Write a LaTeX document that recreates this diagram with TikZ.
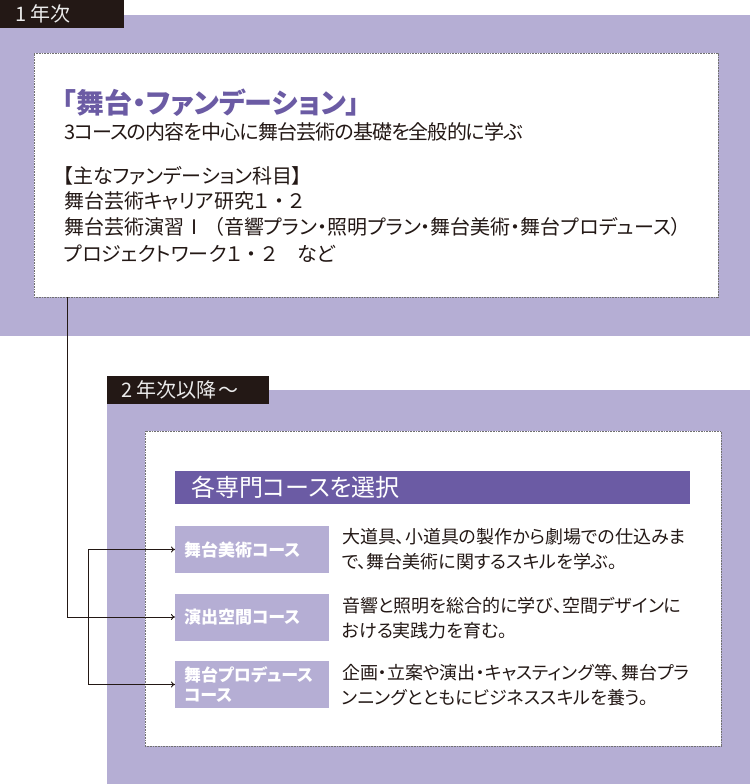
\documentclass[tikz,border=0pt]{standalone}
\usepackage{fontspec}
\setmainfont{Noto Sans CJK JP}[RawFeature=+palt]
\newfontfamily\fw{Noto Sans CJK JP}
\usetikzlibrary{arrows.meta}
\definecolor{band}{HTML}{B5AED4}
\definecolor{tagc}{HTML}{231815}
\definecolor{deep}{HTML}{6B5BA4}
\definecolor{dotc}{HTML}{707070}
\definecolor{ink}{HTML}{231815}
\newcommand{\fdot}{{\fw ・}}
\begin{document}
\begin{tikzpicture}[x=1pt,y=-1pt,inner sep=0pt,outer sep=0pt,
  bandbox/.style={fill=band,draw=none,anchor=north west},
  tagbox/.style={fill=tagc,anchor=north west,minimum height=28pt},
  tagtext/.style={anchor=west,text=white!92!black,font=\fw\fontsize{20pt}{22pt}\selectfont},
  panel/.style={fill=white,draw=dotc,line width=0.8pt,dash pattern=on 0.9pt off 0.7pt,anchor=north west},
  body/.style={anchor=west,text=ink,font=\fontsize{20pt}{26pt}\selectfont},
  desc/.style={anchor=west,text=ink,align=left,font=\fontsize{18pt}{24.5pt}\selectfont},
  course/.style={fill=band,text=white,anchor=west,minimum width=154pt,minimum height=47pt,
    text width=136pt,align=left,inner xsep=9pt,font=\bfseries\fontsize{17pt}{20pt}\selectfont},
  arr/.style={draw=ink,line width=0.9pt,-{To[length=4pt,width=6pt]}}]
\useasboundingbox (0,0) rectangle (750,784);
% first year
\node[bandbox,minimum width=750pt,minimum height=321pt] (band1) at (0,15) {};
\node[tagbox,minimum width=124pt] (tag1) at (0,0) {};
\node[tagtext] (tag1t) at (15,14) {1 年次};
\node[panel,minimum width=684pt,minimum height=244pt] (box1) at (34,53) {};
\node[anchor=west,text=deep,font=\bfseries\fontsize{28pt}{30pt}\selectfont] (title) at (62,103) {「舞台・ファンデーション」};
\node[body] (l1) at (64,132) {\addfontfeature{LetterSpace=-4.4}3コースの内容を中心に舞台芸術の基礎を全般的に学ぶ};
\node[body] (l2) at (63,176) {【主なファンデーション科目】};
\node[body] (l3) at (64,201) {舞台芸術キャリア研究１\fdot ２};
\node[body] (l4) at (64,227) {舞台芸術演習Ⅰ{\fw （}音響プラン・照明プラン・舞台美術・舞台プロデュース）};
\node[body] (l5) at (64,254) {プロジェクトワーク１\fdot ２　など};
% second year
\node[bandbox,minimum width=643pt,minimum height=394pt] (band2) at (107,390) {};
\node[tagbox,minimum width=162pt] (tag2) at (107,376) {};
\node[tagtext] (tag2t) at (121,390) {2 年次以降\hspace{2pt}〜};
\node[panel,minimum width=576pt,minimum height=315pt] (box2) at (145,431) {};
\node[fill=deep,text=white,anchor=north west,minimum width=515pt,minimum height=33pt,
  text width=483pt,inner xsep=16pt,align=left,font=\fontsize{24pt}{26pt}\selectfont] (head) at (175,471) {各専門コースを選択};
\node[course] (c1) at (175,549.5) {舞台美術コース};
\node[course] (c2) at (175,617) {演出空間コース};
\node[course] (c3) at (175,684.5) {舞台プロデュース\\コース};
\node[desc] (d1) at (342,549) {大道具、小道具の製作から劇場での仕込みま\\で、舞台美術に関するスキルを学ぶ。};
\node[desc] (d2) at (342,618) {音響と照明を総合的に学び、空間デザインに\\おける実践力を育む。};
\node[desc] (d3) at (342,685) {企画・立案や演出・キャスティング等、舞台プラ\\ンニングとともにビジネススキルを養う。};
% connectors
\coordinate (j1) at (67,297);
\coordinate (j2) at (88,617);
\draw[arr] (j1) |- (c2.west);
\draw[arr] (j2) |- (c1.west);
\draw[arr] (j2) |- (c3.west);
\end{tikzpicture}
\end{document}
